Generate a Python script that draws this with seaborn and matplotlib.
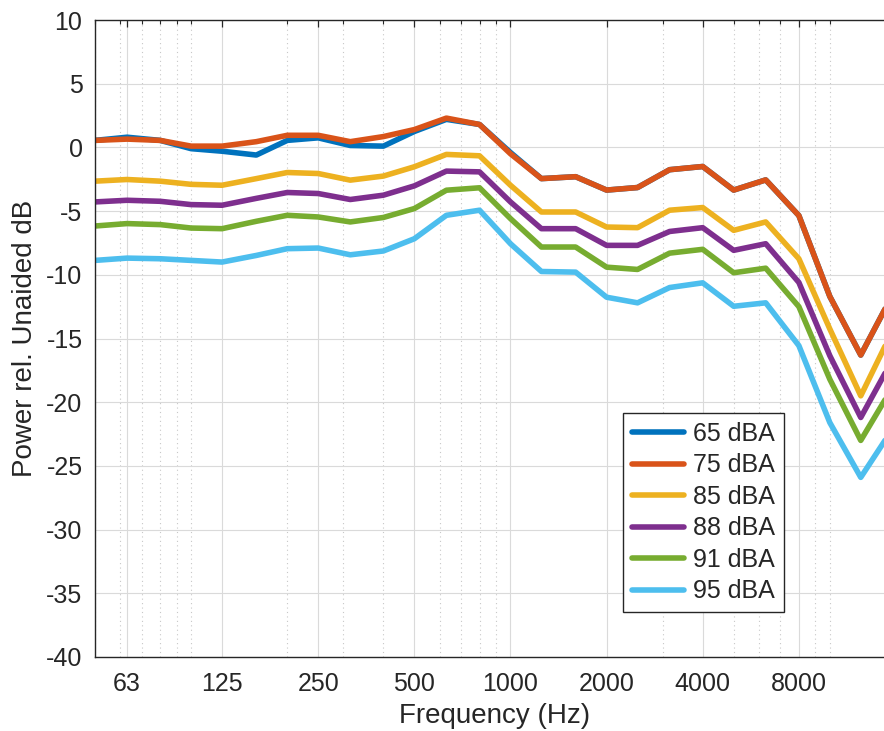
import numpy as np
import pandas as pd
import matplotlib
matplotlib.use("Agg")
import matplotlib.pyplot as plt
from matplotlib.ticker import FixedLocator, LogLocator, NullFormatter, FixedFormatter
import seaborn as sns

freqs = [50, 63, 80, 100, 125, 160, 200, 250, 315, 400, 500, 630, 800, 1000,
         1250, 1600, 2000, 2500, 3150, 4000, 5000, 6300, 8000, 10000, 12500, 16000]

p65 = [0.55, 0.8, 0.55, -0.1, -0.3, -0.6, 0.55, 0.75, 0.15, 0.1, 1.25, 2.2, 1.8, -0.4,
       -2.45, -2.3, -3.35, -3.15, -1.75, -1.5, -3.35, -2.55, -5.35, -11.7, -16.3, -11.2]
p75 = [0.55, 0.65, 0.55, 0.1, 0.1, 0.45, 0.95, 0.95, 0.45, 0.85, 1.4, 2.3, 1.8, -0.5,
       -2.45, -2.3, -3.35, -3.15, -1.75, -1.5, -3.35, -2.55, -5.35, -11.7, -16.3, -11.2]
p85 = [-2.65, -2.52, -2.65, -2.9, -2.97, -2.45, -1.97, -2.05, -2.57, -2.25, -1.52, -0.55, -0.66, -2.97,
       -5.07, -5.07, -6.25, -6.3, -4.93, -4.72, -6.51, -5.85, -8.74, -14.25, -19.5, -14.0]
p88 = [-4.28, -4.15, -4.23, -4.49, -4.54, -4.0, -3.54, -3.62, -4.09, -3.75, -3.02, -1.86, -1.92, -4.28,
       -6.38, -6.38, -7.69, -7.69, -6.6, -6.3, -8.08, -7.56, -10.6, -16.35, -21.2, -16.3]
p91 = [-6.17, -5.98, -6.06, -6.33, -6.38, -5.8, -5.33, -5.46, -5.85, -5.5, -4.8, -3.36, -3.17, -5.59,
       -7.82, -7.82, -9.4, -9.58, -8.3, -8.0, -9.84, -9.48, -12.5, -18.2, -23.0, -18.5]
p95 = [-8.87, -8.69, -8.74, -8.87, -9.0, -8.48, -7.95, -7.9, -8.43, -8.13, -7.17, -5.33, -4.93, -7.56,
       -9.74, -9.79, -11.76, -12.2, -11.0, -10.63, -12.47, -12.2, -15.56, -21.6, -25.9, -21.8]

levels = ["65 dBA", "75 dBA", "85 dBA", "88 dBA", "91 dBA", "95 dBA"]
series = [p65, p75, p85, p88, p91, p95]
colors = ["#0072BD", "#D95319", "#EDB120", "#7E2F8E", "#77AC30", "#4DBEEE"]

xticks = [63, 125, 250, 500, 1000, 2000, 4000, 8000]
xticklabels = ["63", "125", "250", "500", "1000", "2000", "4000", "8000"]
yticks = [10, 5, 0, -5, -10, -15, -20, -25, -30, -35, -40]

rows = []
for lev, vals in zip(levels, series):
    for f, v in zip(freqs, vals):
        rows.append({"Frequency": f, "Power": v, "Level": lev})
df = pd.DataFrame(rows)

sns.set_style("white")
plt.rcParams["font.family"] = ["Liberation Sans", "DejaVu Sans"]
txt = "#262626"

W, H = 884, 731
fig = plt.figure(figsize=(W / 100, H / 100), dpi=100)
ax = fig.add_axes([95 / W, 1 - 657 / H, 800 / W, 637 / H])

sns.lineplot(data=df, x="Frequency", y="Power", hue="Level", hue_order=levels,
             palette=colors, linewidth=4, estimator=None, sort=False, ax=ax)

ax.set_xscale("log")
ax.set_xlim(50, 16000)
ax.set_ylim(-40, 10)

ax.xaxis.set_major_locator(FixedLocator(xticks))
ax.xaxis.set_major_formatter(FixedFormatter(xticklabels))
ax.xaxis.set_minor_locator(LogLocator(base=10, subs=np.arange(1, 10), numticks=50))
ax.xaxis.set_minor_formatter(NullFormatter())
ax.set_yticks(yticks)
ax.set_yticklabels([str(v) for v in yticks])

ax.grid(which="major", color="#dadada", linewidth=0.8, linestyle="-")
ax.grid(which="minor", axis="x", color="#c8c8c8", linewidth=0.8, linestyle=(0, (1, 3)))
ax.set_axisbelow(True)

for s in ax.spines.values():
    s.set_visible(True)
    s.set_color(txt)
    s.set_linewidth(1.0)

ax.tick_params(axis="both", which="major", direction="in", length=5, width=0.9,
               colors=txt, labelsize=18, top=True, right=True, labelcolor=txt)
ax.tick_params(axis="x", which="major", pad=11)
ax.tick_params(axis="y", which="major", pad=9)
ax.tick_params(axis="x", which="minor", direction="in", length=3, width=0.8,
               colors=txt, top=True)

ax.set_xlabel("Frequency (Hz)", fontsize=20, color=txt, labelpad=5)
ax.set_ylabel("Power rel. Unaided dB", fontsize=20, color=txt, labelpad=6)

leg = ax.legend(loc="upper left", bbox_to_anchor=((623 - 95) / 800, (657 - 413) / 637),
                borderaxespad=0, fontsize=18, frameon=True, fancybox=False,
                framealpha=1, edgecolor=txt, handlelength=2.1, handletextpad=0.35,
                labelspacing=0.3, borderpad=0.35, title=None)
leg.get_frame().set_linewidth(1.0)
for line in leg.get_lines():
    line.set_linewidth(4)
for t in leg.get_texts():
    t.set_color(txt)

fig.savefig("out.png", dpi=100)
